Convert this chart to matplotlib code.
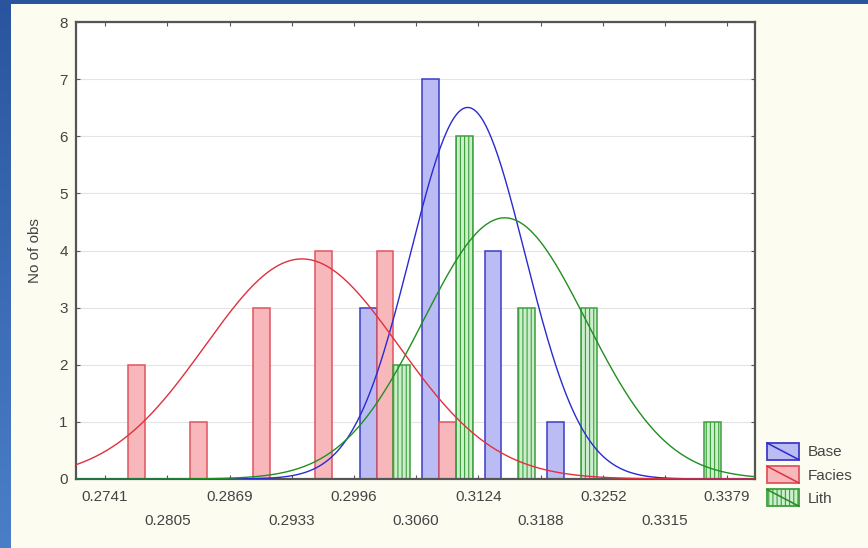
#!/usr/bin/env python3
# -*- coding: utf-8 -*-
"""
Grouped histogram (Base / Facies / Lith) with fitted normal curves
"""

import numpy as np
import matplotlib
matplotlib.use('Agg')
import matplotlib.pyplot as plt
from matplotlib.patches import Rectangle
from matplotlib.lines import Line2D
from matplotlib.legend_handler import HandlerBase

# bin edges as printed on the x axis
tick_labels = ['0.2741', '0.2805', '0.2869', '0.2933', '0.2996', '0.3060',
               '0.3124', '0.3188', '0.3252', '0.3315', '0.3379']
series = ['Base', 'Facies', 'Lith']

# counts per bin (bin k lies between tick k and tick k+1)
base_counts = [0, 0, 0, 0, 3, 7, 4, 1, 0, 0]
facies_counts = [2, 1, 3, 4, 4, 1, 0, 0, 0, 0]
lith_counts = [0, 0, 0, 0, 2, 6, 3, 3, 0, 1]

# fitted normal curves (mean, sd)
base_fit = (0.3113, 0.00587)
facies_fit = (0.2943, 0.00991)
lith_fit = (0.3151, 0.00835)
n_obs = 15

fills = {'Base': '#bcbcf4', 'Facies': '#f8b8bb', 'Lith': '#cdeecd'}
edges = {'Base': '#3c3cc8', 'Facies': '#e05460', 'Lith': '#3ca03c'}
curves = {'Base': '#2a2ad2', 'Facies': '#e0303e', 'Lith': '#1f8f1f'}
hatches = {'Base': None, 'Facies': None, 'Lith': '||||'}

W, H = 868, 548
FS = 11
plt.rcParams.update({
    'font.family': ['Liberation Sans', 'DejaVu Sans'],
    'font.size': FS,
    'hatch.linewidth': 0.8,
})

fig = plt.figure(figsize=(W / 100, H / 100), dpi=100)

# blue gradient frame + cream panel
bg = fig.add_axes([0, 0, 1, 1], zorder=-10)
grad = np.linspace(0, 1, 256).reshape(-1, 1)
bg.imshow(grad, aspect='auto', extent=[0, 1, 0, 1], origin='upper',
          cmap=matplotlib.colors.LinearSegmentedColormap.from_list(
              'bl', ['#2a559e', '#4a7fc8']))
bg.add_patch(Rectangle((11 / W, 0), 1 - 11 / W, 1 - 4 / H,
                       facecolor='#fdfcf1', edgecolor='none'))
bg.set_xlim(0, 1)
bg.set_ylim(0, 1)
bg.axis('off')

ax = fig.add_axes([76 / W, 1 - 479 / H, (755 - 76) / W, (479 - 22) / H])
ax.set_facecolor('white')

edges_x = np.array([float(t) for t in tick_labels])
bw = (edges_x[-1] - edges_x[0]) / (len(edges_x) - 1)
bar_w = 0.27 * bw
offsets = [0.235, 0.505, 0.775]

data = {'Base': base_counts, 'Facies': facies_counts, 'Lith': lith_counts}
fits = {'Base': base_fit, 'Facies': facies_fit, 'Lith': lith_fit}

for s, off in zip(series, offsets):
    x = edges_x[:-1] + off * bw
    ax.bar(x, data[s], width=bar_w, color=fills[s], edgecolor=edges[s],
           linewidth=1.1, hatch=hatches[s], zorder=2)

xlo = edges_x[0] - 0.466 * bw
xhi = edges_x[0] + 10.45 * bw
xs = np.linspace(xlo, xhi, 400)
for s in series:
    mu, sd = fits[s]
    ys = n_obs * bw / (sd * np.sqrt(2 * np.pi)) * np.exp(-0.5 * ((xs - mu) / sd) ** 2)
    ax.plot(xs, ys, color=curves[s], lw=1.0, zorder=3)

ax.set_xlim(xlo, xhi)
ax.set_ylim(0, 8)
ax.set_yticks(range(9))
ax.yaxis.grid(True, color='#e4e4e4', lw=0.8, zorder=0)
ax.set_axisbelow(True)

# staggered x labels: even ones on the first row, odd ones on the second
ax.set_xticks(edges_x[::2])
ax.set_xticklabels(tick_labels[::2])
ax.set_xticks(edges_x[1::2], minor=True)
ax.set_xticklabels(tick_labels[1::2], minor=True)
ax.tick_params(which='both', direction='in', top=True, right=True, length=3,
               width=0.8, colors='#555555', labelcolor='#444444', labelsize=FS)
ax.tick_params(axis='x', which='major', pad=8)
ax.tick_params(axis='x', which='minor', pad=25)
ax.tick_params(axis='y', pad=6)
for sp in ax.spines.values():
    sp.set_color('#555555')
    sp.set_linewidth(1.6)

fig.text(35 / W, 1 - 251 / H, 'No of obs', rotation=90, ha='center', va='center',
         color='#444444', fontsize=FS)


class BoxWithLine(HandlerBase):
    def create_artists(self, legend, orig, xd, yd, width, height, fontsize, trans):
        s = orig.get_label()
        r = Rectangle((-xd, -yd), width, height, facecolor=fills[s],
                      edgecolor=edges[s], lw=1.3, hatch=hatches[s], transform=trans)
        ln = Line2D([-xd, -xd + width], [-yd + height, -yd], color=curves[s],
                    lw=1.1, transform=trans)
        return [r, ln]


px = FS * 100 / 72
handles = [Rectangle((0, 0), 1, 1, label=s) for s in series]
fig.legend(handles=handles, labels=series, handler_map={Rectangle: BoxWithLine()},
           loc='upper left', bbox_to_anchor=(767 / W, 1 - 443 / H),
           frameon=False, borderpad=0, borderaxespad=0,
           handlelength=32 / px, handleheight=20 / px, labelspacing=6.5 / px,
           handletextpad=9 / px, fontsize=FS, labelcolor='#444444')

fig.savefig('out.png', dpi=100)
plt.close(fig)

# EOF
